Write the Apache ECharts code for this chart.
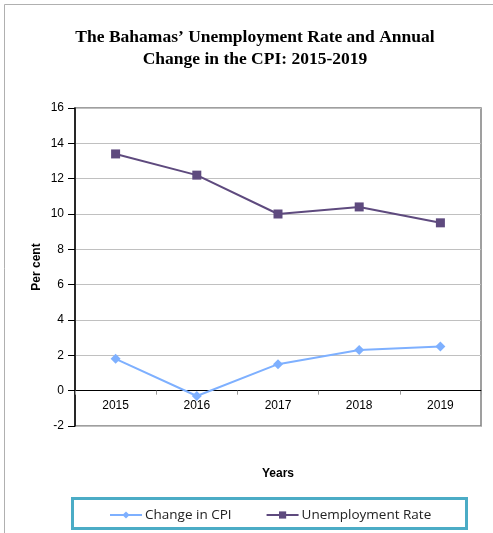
<!DOCTYPE html>
<html>
<head>
<meta charset="utf-8">
<script src="https://cdn.jsdelivr.net/npm/echarts@6/dist/echarts.min.js"></script>
<style>
  html, body { margin: 0; padding: 0; background: #fff; }
  #chart { width: 493px; height: 533px; }
</style>
</head>
<body>
<div id="chart"></div>
<script>
var years = ['2015', '2016', '2017', '2018', '2019'];
var cpiChange = [1.8, -0.3, 1.5, 2.3, 2.5];
var unemployment = [13.4, 12.2, 10.0, 10.4, 9.5];

var chart = echarts.init(document.getElementById('chart'));
var option = {
    animation: false,
    backgroundColor: '#fff',
    title: {
        text: 'The Bahamas\u2019 Unemployment Rate and Annual\nChange in the CPI: 2015-2019',
        left: 250,
        textAlign: 'center',
        top: 21,
        textStyle: {
            fontFamily: 'Liberation Serif',
            fontWeight: 'bold',
            fontSize: 17.5,
            lineHeight: 22,
            color: '#000'
        }
    },
    graphic: [
        { type: 'line', shape: { x1: 4.5, y1: 4.5, x2: 493, y2: 4.5 }, style: { stroke: '#b0b0b0', lineWidth: 1 } },
        { type: 'line', shape: { x1: 4.5, y1: 4.5, x2: 4.5, y2: 533 }, style: { stroke: '#b0b0b0', lineWidth: 1 } },
        { type: 'rect', shape: { x: 72.5, y: 498.5, width: 394, height: 30 }, style: { fill: 'none', stroke: '#4BACC6', lineWidth: 3 }, z: 10 }
    ],
    legend: {
        left: 104,
        top: 503,
        itemWidth: 32,
        itemHeight: 9,
        itemGap: 34,
        textStyle: { fontFamily: 'Open Sans', fontSize: 13.5, color: '#222', padding: [0, 0, 0, -2] },
        data: ['Change in CPI', 'Unemployment Rate']
    },
    grid: {
        left: 75,
        right: 12,
        top: 108,
        bottom: 107,
        show: true,
        borderColor: '#808080',
        borderWidth: 1.5
    },
    xAxis: {
        type: 'category',
        data: years,
        boundaryGap: true,
        position: 'bottom',
        offset: -35.33,
        name: 'Years',
        nameLocation: 'middle',
        nameGap: 77,
        nameTextStyle: { fontFamily: 'Liberation Sans', fontWeight: 'bold', fontSize: 12, color: '#000' },
        axisLine: { onZero: false, lineStyle: { color: '#000', width: 1 } },
        axisTick: { show: true, inside: false, length: 4, lineStyle: { color: '#999' } },
        axisLabel: { fontFamily: 'Liberation Sans', fontSize: 12, color: '#000', margin: 9 }
    },
    yAxis: {
        type: 'value',
        min: -2,
        max: 16,
        interval: 2,
        name: 'Per cent',
        nameLocation: 'middle',
        nameGap: 32,
        nameMoveOverlap: false,
        nameTextStyle: { fontFamily: 'Liberation Sans', fontWeight: 'bold', fontSize: 12, color: '#000' },
        axisLine: { show: true, lineStyle: { color: '#000', width: 1.5 } },
        axisTick: { show: true, length: 7, lineStyle: { color: '#000' } },
        axisLabel: { fontFamily: 'Liberation Sans', fontSize: 12, color: '#000', margin: 11 },
        splitLine: { show: true, lineStyle: { color: '#c0c0c0', width: 1 } }
    },
    series: [
        {
            name: 'Change in CPI',
            type: 'line',
            data: cpiChange,
            symbol: 'diamond',
            symbolSize: 10,
            color: '#7EB0FF',
            lineStyle: { color: '#7EB0FF', width: 2 },
            itemStyle: { color: '#7EB0FF' }
        },
        {
            name: 'Unemployment Rate',
            type: 'line',
            data: unemployment,
            symbol: 'rect',
            symbolSize: 9,
            color: '#5E4A7E',
            lineStyle: { color: '#5E4A7E', width: 2 },
            itemStyle: { color: '#5E4A7E' }
        }
    ]
};
chart.setOption(option);
</script>
</body>
</html>
